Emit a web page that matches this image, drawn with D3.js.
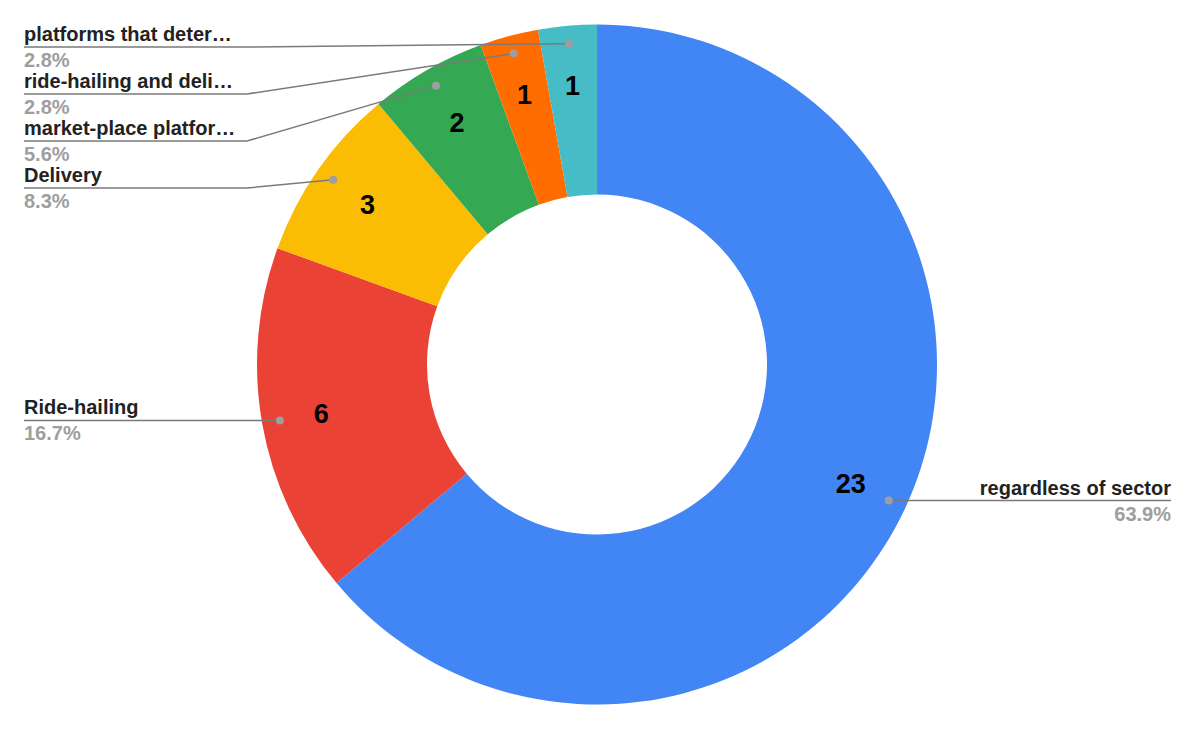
<html>
<head>
<meta charset="utf-8">
<script src="https://cdn.jsdelivr.net/npm/d3@7"></script>
<style>
  body { margin: 0; background: #fff; }
  text { font-family: "Liberation Sans", Arial, sans-serif; font-weight: bold; }
</style>
</head>
<body>
<div id="chartholder"></div>
<script>
// data, clockwise from 12 o'clock
var categories = ["regardless of sector", "Ride-hailing", "Delivery", "market-place platfor\u2026", "ride-hailing and deli\u2026", "platforms that deter\u2026"];
var values = [23, 6, 3, 2, 1, 1];
var colors = ["#4285f4", "#ea4335", "#fbbc04", "#34a853", "#ff6d01", "#46bdc6"];

var width = 1200, height = 733;
var cx = 597, cy = 364.5;
var outerR = 340, innerR = 170;

var svg = d3.select('#chartholder').append('svg')
    .attr('width', width)
    .attr('height', height);

var data = categories.map(function(c, i) { return {name: c, value: values[i], color: colors[i]}; });
var total = d3.sum(values);

var pie = d3.pie().sort(null).value(function(d) { return d.value; });
var arcs = pie(data);

var arc = d3.arc().innerRadius(innerR).outerRadius(outerR);
var valueArc = d3.arc().innerRadius(280).outerRadius(280);
var dotArc = d3.arc().innerRadius(322).outerRadius(322);

var g = svg.append('g').attr('transform', 'translate(' + cx + ',' + cy + ')');

g.selectAll('path.slice')
    .data(arcs)
    .enter().append('path')
        .attr('class', 'slice')
        .attr('d', arc)
        .style('fill', function(d) { return d.data.color; });

g.selectAll('text.val')
    .data(arcs)
    .enter().append('text')
        .attr('class', 'val')
        .attr('transform', function(d) { return 'translate(' + valueArc.centroid(d) + ')'; })
        .attr('text-anchor', 'middle')
        .attr('dy', '0.36em')
        .style('font-size', '27px')
        .style('fill', '#000')
        .text(function(d) { return d.data.value; });

// callout labels: left side stacked from the top, right side aligned to the dot
var labels = arcs.map(function(d) {
    var c = dotArc.centroid(d);
    return {d: d, dx: cx + c[0], dy: cy + c[1], left: c[0] < 0};
});

var leftLabels = labels.filter(function(l) { return l.left; })
    .sort(function(a, b) { return a.dy - b.dy; });
var prev = 0;
leftLabels.forEach(function(l) {
    l.ly = Math.max(l.dy, prev + 47);
    prev = l.ly;
});
labels.filter(function(l) { return !l.left; }).forEach(function(l) { l.ly = l.dy; });

var leftX = 24, elbowL = 247, rightX = 1171;

var callouts = svg.append('g').selectAll('g')
    .data(labels)
    .enter().append('g');

callouts.append('polyline')
    .attr('points', function(l) {
        if (l.left) return [[leftX, l.ly], [elbowL, l.ly], [l.dx, l.dy]].join(' ');
        return [[l.dx, l.dy], [rightX, l.ly]].join(' ');
    })
    .style('fill', 'none')
    .style('stroke', '#7a7a7a')
    .style('stroke-width', 1.5);

callouts.append('circle')
    .attr('cx', function(l) { return l.dx; })
    .attr('cy', function(l) { return l.dy; })
    .attr('r', 4)
    .style('fill', '#9e9e9e');

callouts.append('text')
    .attr('x', function(l) { return l.left ? leftX : rightX; })
    .attr('y', function(l) { return l.ly - 6; })
    .attr('text-anchor', function(l) { return l.left ? 'start' : 'end'; })
    .style('font-size', '20px')
    .style('fill', '#222')
    .text(function(l) { return l.d.data.name; });

callouts.append('text')
    .attr('x', function(l) { return l.left ? leftX : rightX; })
    .attr('y', function(l) { return l.ly + 20; })
    .attr('text-anchor', function(l) { return l.left ? 'start' : 'end'; })
    .style('font-size', '20px')
    .style('fill', '#9e9e9e')
    .text(function(l) { return (l.d.data.value / total * 100).toFixed(1) + '%'; });
</script>
</body>
</html>
